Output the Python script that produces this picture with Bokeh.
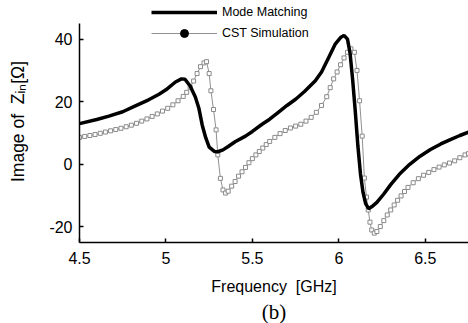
from bokeh.plotting import figure
from bokeh.models import (Legend, LegendItem, Range1d, FixedTicker, Title,
                          CustomJSTickFormatter)
from bokeh.embed import file_html
from bokeh.resources import INLINE

# ---- data ----
mm_freq = [4.50, 4.60, 4.67, 4.75, 4.82, 4.90, 4.96, 5.00, 5.055, 5.09, 5.11, 5.14,
           5.17, 5.19, 5.21, 5.23, 5.25, 5.28, 5.30, 5.33, 5.36, 5.40, 5.46, 5.50,
           5.556, 5.60, 5.65, 5.70, 5.75, 5.80, 5.864, 5.90, 5.94, 5.98, 6.01, 6.03,
           6.05, 6.065, 6.08, 6.095, 6.11, 6.125, 6.14, 6.155, 6.172, 6.19, 6.22,
           6.26, 6.30, 6.35, 6.41, 6.47, 6.53, 6.59, 6.645, 6.70, 6.75]
mm_imag = [13.0, 14.3, 15.4, 16.8, 18.6, 20.6, 22.4, 23.8, 26.3, 27.3, 27.2, 25.0,
           21.5, 18.0, 12.5, 8.5, 5.5, 4.1, 4.0, 4.6, 5.7, 7.2, 9.0, 10.5,
           12.8, 14.4, 16.6, 18.8, 20.8, 23.2, 26.7, 29.5, 34.0, 38.5, 40.5, 41.2,
           40.0, 35.5, 27.0, 17.0, 6.0, -3.0, -9.0, -12.6, -14.2, -13.6, -12.2,
           -9.5, -6.5, -3.2, 0.0, 2.6, 4.7, 6.5, 7.9, 9.2, 10.3]

cst_freq = [4.50, 4.53, 4.56, 4.59, 4.62, 4.65, 4.68, 4.71, 4.74, 4.77, 4.80, 4.83,
            4.86, 4.89, 4.92, 4.95, 4.98, 5.01, 5.04, 5.07, 5.10, 5.12, 5.14, 5.16,
            5.18, 5.20, 5.22, 5.235, 5.25, 5.26, 5.275, 5.29, 5.30, 5.315, 5.33, 5.345,
            5.36, 5.38, 5.40, 5.42, 5.44, 5.46, 5.48, 5.50, 5.52, 5.54, 5.56, 5.58,
            5.60, 5.63, 5.66, 5.69, 5.72, 5.75, 5.78, 5.81, 5.84, 5.87, 5.90, 5.93,
            5.95, 5.97, 5.99, 6.01, 6.03, 6.05, 6.07, 6.09, 6.105, 6.12, 6.135, 6.148,
            6.16, 6.17, 6.18, 6.19, 6.205, 6.22, 6.24, 6.26, 6.28, 6.30, 6.32, 6.34,
            6.36, 6.38, 6.40, 6.43, 6.46, 6.49, 6.52, 6.55, 6.58, 6.61, 6.64, 6.67,
            6.70, 6.73, 6.75]
cst_imag = [8.6, 8.9, 9.2, 9.5, 9.9, 10.3, 10.7, 11.1, 11.5, 12.0, 12.5, 13.1,
            13.8, 14.5, 15.3, 16.1, 17.0, 17.9, 19.0, 20.3, 21.7, 23.0, 24.6, 26.6,
            29.0, 31.2, 32.4, 32.8, 29.0, 23.5, 17.5, 11.0, 3.0, -4.5, -8.2, -9.2,
            -8.6, -7.0, -5.5, -3.8, -2.4, -1.0, 0.5, 1.8, 3.0, 4.1, 5.2, 6.3,
            7.3, 8.6, 9.8, 10.8, 11.6, 12.2, 12.8, 13.8, 15.0, 16.6, 18.8, 21.6,
            24.5, 27.3, 29.5, 31.8, 34.0, 35.8, 36.9, 35.8, 30.0, 20.3, 9.0, -4.4,
            -10.5, -14.6, -18.5, -21.0, -22.0, -21.5, -19.9, -18.0, -16.2, -14.6, -13.0, -11.5,
            -10.1, -8.7, -7.4, -5.9, -4.6, -3.5, -2.6, -1.7, -0.9, -0.2, 0.4, 1.1,
            2.1, 3.0, 3.4]

x_ticks = [4.5, 5.0, 5.5, 6.0, 6.5]
y_ticks = [-20, 0, 20, 40]
y_bounds = (-25, 45)
series_names = ["Mode Matching", "CST Simulation"]

FONT = "Liberation Sans"
NB = "\u00a0"

# frame reaches the top of the canvas so the legend is not clipped;
# the y axis line is limited to its bounds (-25..45)
p = figure(width=468, height=323, output_backend="svg", toolbar_location=None,
           x_range=Range1d(4.5, 6.75), y_range=Range1d(-25, 52.35),
           min_border_left=79, min_border_right=0, min_border_top=0,
           min_border_bottom=81)
p.outline_line_color = None
p.xgrid.visible = False
p.ygrid.visible = False
p.background_fill_color = "white"
p.border_fill_color = "white"

for ax in (p.xaxis[0], p.yaxis[0]):
    ax.axis_line_color = "black"
    ax.axis_line_width = 1.5
    ax.major_tick_in = 4
    ax.major_tick_out = 0
    ax.major_tick_line_width = 1.5
    ax.minor_tick_line_color = None
    ax.major_label_text_font = FONT
    ax.major_label_text_font_size = "16px"
    ax.major_label_text_color = "black"
    ax.formatter = CustomJSTickFormatter(code="return tick.toString();")
    ax.axis_label_text_font = FONT
    ax.axis_label_text_font_style = "normal"
    ax.axis_label_text_color = "black"
p.xaxis.ticker = FixedTicker(ticks=x_ticks)
p.yaxis.ticker = FixedTicker(ticks=y_ticks)
p.yaxis.bounds = y_bounds
p.xaxis.major_label_standoff = 9
p.yaxis.major_label_standoff = 7
p.xaxis.axis_label = "Frequency" + NB + NB + "[GHz]"
p.xaxis.axis_label_text_font_size = "16px"
p.xaxis.axis_label_standoff = 11
p.yaxis.axis_label = "Image" + NB + "of" + NB + NB + "Z\u1d62\u2099[\u03a9]"
p.yaxis.axis_label_text_font_size = "17.5px"
p.yaxis.axis_label_standoff = 18

# data
cst_line = p.line(cst_freq, cst_imag, line_color="#909090", line_width=1)
p.scatter(cst_freq, cst_imag, marker="square", size=4, line_color="#8a8a8a",
          fill_color="white", line_width=1)
mm_line = p.line(mm_freq, mm_imag, line_color="black", line_width=3.5)

# legend proxy for the black dot (NaN point: never drawn in the plot)
leg_dot = p.scatter([float("nan")], [float("nan")], marker="circle", size=5,
                    fill_color="black", line_color="black")
legend = Legend(items=[LegendItem(label=series_names[0], renderers=[mm_line]),
                       LegendItem(label=series_names[1], renderers=[cst_line, leg_dot])],
                location=(72, 199), padding=0, margin=0, spacing=1,
                glyph_width=66, glyph_height=20, label_height=20, label_standoff=5,
                border_line_color=None, background_fill_alpha=0,
                label_text_font=FONT, label_text_font_size="12.5px",
                label_text_color="black")
p.add_layout(legend)

p.add_layout(Title(text="(b)", align="center", text_font="Liberation Serif",
                   text_font_size="21px", text_font_style="normal",
                   text_color="black", standoff=0), "below")

open("out.html", "w").write(file_html(p, INLINE))
